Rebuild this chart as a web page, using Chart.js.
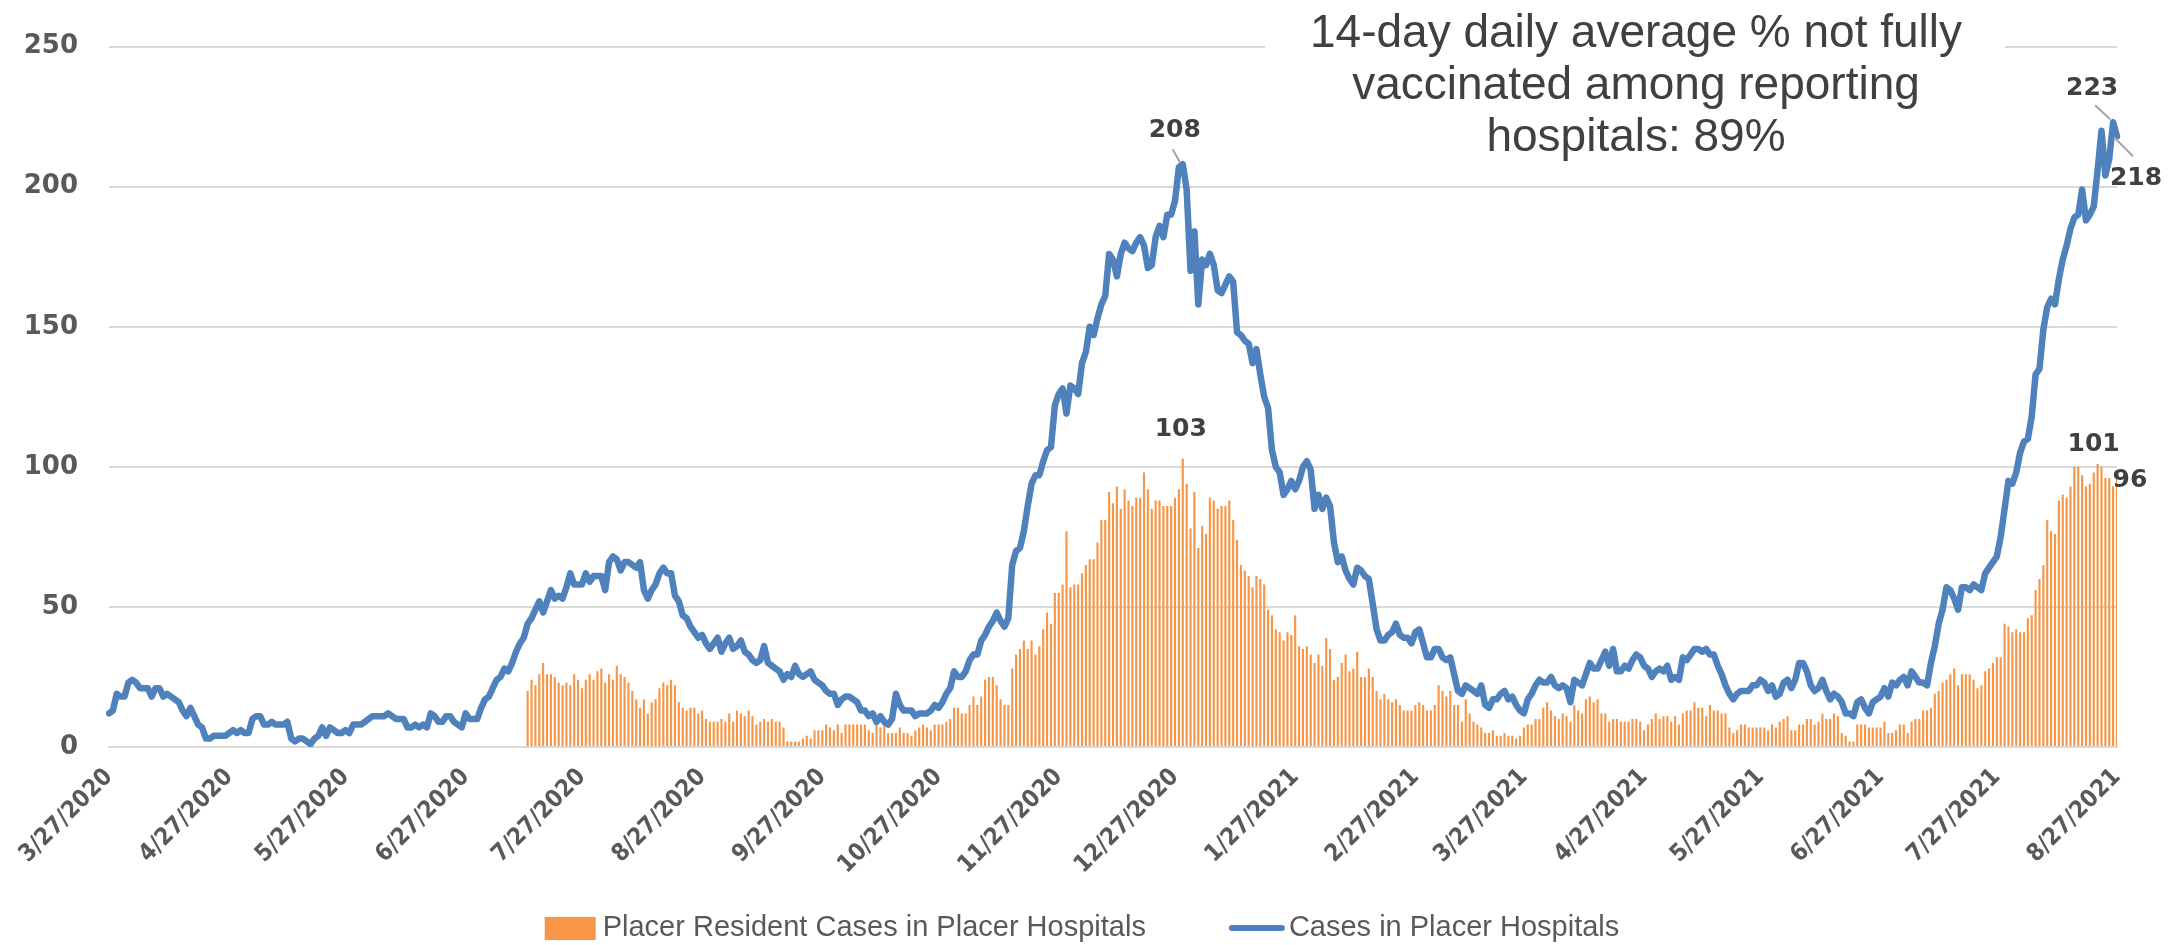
<!DOCTYPE html>
<html>
<head>
<meta charset="utf-8">
<title>Placer hospital cases</title>
<script src="https://cdn.jsdelivr.net/npm/chart.js@4.4.0/dist/chart.umd.min.js"></script>
<style>
    html, body { margin: 0; padding: 0; background: #ffffff; }
    canvas { display: block; }
</style>
</head>
<body>
<canvas id="hospitals" width="2178" height="945"></canvas>
<script>
// daily census, 3/27/2020 .. 8/27/2021
const hospital_cases = [
    12,13,19,18,18,23,24,23,21,21, 21,18,21,21,18,19,18,17,16,13,
    11,14,11,8,7,3,3,4,4,4, 4,5,6,5,6,5,5,10,11,11,
    8,8,9,8,8,8,9,3,2,3, 3,2,1,3,4,7,4,7,6,5,
    5,6,5,8,8,8,9,10,11,11, 11,11,12,11,10,10,10,7,7,8,
    7,8,7,12,11,9,9,11,11,9, 8,7,12,10,10,10,14,17,18,21,
    24,25,28,27,30,34,37,39,44,46, 49,52,48,52,56,53,54,53,57,62,
    58,58,58,62,59,61,61,61,56,66, 68,67,63,66,66,65,64,66,56,53,
    56,58,62,64,62,62,54,52,47,46, 43,41,39,40,37,35,37,39,34,37,
    39,35,36,38,34,33,31,30,31,36, 30,29,28,27,24,26,25,29,26,25,
    26,27,24,23,22,20,19,19,15,17, 18,18,17,16,13,13,11,12,9,11,
    9,8,10,19,15,13,13,13,11,12, 12,12,13,15,14,16,19,21,27,25,
    25,27,31,33,33,38,40,43,45,48, 45,43,46,65,70,71,77,86,94,97,
    97,102,106,107,122,126,128,119,129,128, 126,137,141,150,147,153,158,161,176,174,
    168,176,180,178,177,180,182,179,171,172, 182,186,182,190,190,195,207,208,199,170,
    184,158,174,172,176,172,163,162,165,168, 166,148,147,145,144,137,142,133,125,121,
    106,100,98,90,92,95,92,95,100,102, 99,85,90,85,89,86,73,66,68,63,
    60,58,64,63,61,60,51,42,38,38, 40,41,44,40,39,39,37,41,42,37,
    32,32,35,35,32,31,32,26,20,19, 22,21,20,19,22,15,14,17,17,19,
    20,17,18,15,13,12,17,19,22,24, 23,23,25,22,21,22,21,16,24,23,
    22,26,30,28,28,31,34,29,35,27, 27,29,28,31,33,32,29,28,25,27,
    28,27,29,24,25,24,32,31,33,35, 35,34,35,33,33,29,26,22,19,17,
    19,20,20,20,22,22,24,23,20,22, 18,19,23,24,21,24,30,30,27,22,
    20,21,24,20,17,19,18,16,12,12, 11,16,17,14,12,16,17,18,21,18,
    23,22,24,25,22,27,25,23,23,22, 30,36,44,49,57,56,53,49,57,57,
    56,58,57,56,62,64,66,68,75,85, 95,94,98,105,109,110,118,133,135,149,
    157,160,158,167,174,179,185,189,190,199, 188,190,193,206,220,204,210,223,218
];

// resident cases, reported from 7/13/2020 on
const resident_start = '7/13/2020';
const resident_cases = [
    20,24,22,26,30,26,26,25,23,22, 23,22,26,24,21,24,26,24,27,28,
    23,26,24,29,26,25,23,20,17,14, 17,12,16,17,21,23,22,24,22,16,
    14,13,14,
    14,12,13,10,9,9,9,10,9,12, 9,13,12,11,13,11,8,9,10,9,
    10,9,9,7,2,2,2,2,3,4, 3,6,6,6,8,7,6,8,5,8,
    8,8,8,8,8,6,5,8,7,8, 5,5,5,7,5,5,4,6,7,8,
    7,6,8,8,8,9,10,14,14,12, 12,15,18,15,18,
    24,25,25,22,17,15,15,28,33,35, 38,35,38,33,36,42,48,44,55,55,
    58,77,57,58,58,62,65,67,67,73, 81,81,91,87,93,85,92,88,86,89,
    89,98,92,85,88,88,86,86,86,89, 92,103,94,78,91,71,79,76,89,88,
    85,86,86,88,81,74,65,63,61,57, 61,60,58,49,47,
    42,41,38,41,40,47,36,35,36,33, 30,33,29,39,35,24,25,30,33,27,
    28,34,25,25,28,25,20,17,19,17, 16,17,15,13,13,13,15,16,15,13,
    13,15,22,20,18,20,15,15,9,17, 12,9,8,7,5,5,6,4,4,5,
    4,4,3,4,7,8,8,10,10,14, 16,13,
    11,10,12,11,9,15,13,12,17,18, 16,17,12,12,9,10,10,9,9,9,
    10,10,9,6,8,10,12,10,11,11, 9,11,8,12,13,13,16,14,14,11,
    15,13,13,12,12,7,5,6,8,8, 7,7,7,7,7,6,8,7,9,10,
    11,6,6,8,8,10,10,8,9,12, 10,10,12,11,5,
    4,2,2,8,8,8,7,7,7,7, 9,5,5,6,8,8,5,9,10,10,
    13,13,14,19,20,23,24,26,28,22, 26,26,26,24,21,22,27,28,30,32,
    32,44,43,41,42,41,41,46,47,56, 60,65,81,77,76,88,90,89,93,100,
    100,97,93,94,98,101,100,96,96,93, 96
];

const tick_labels = ['3/27/2020','4/27/2020','5/27/2020','6/27/2020','7/27/2020','8/27/2020',
    '9/27/2020','10/27/2020','11/27/2020','12/27/2020','1/27/2021','2/27/2021','3/27/2021',
    '4/27/2021','5/27/2021','6/27/2021','7/27/2021','8/27/2021'];

const note_lines = ['14-day daily average % not fully', 'vaccinated among reporting', 'hospitals: 89%'];

const series_names = ['Placer Resident Cases in Placer Hospitals', 'Cases in Placer Hospitals'];

// one category per day
const day_labels = [];
for (let i = 0; i < hospital_cases.length; i++) {
    const d = new Date(2020, 2, 27 + i);
    day_labels.push(`${d.getMonth() + 1}/${d.getDate()}/${d.getFullYear()}`);
}
const first_resident = day_labels.indexOf(resident_start);
const resident_data = day_labels.map((l, i) =>
    i < first_resident ? null : resident_cases[i - first_resident]);

const orange = '#F79646';
const blue = '#4F81BD';

// values written next to a few marks: [dataset, index, dx, dy]
const point_notes = [
    [1, 277, -8, -34],
    [0, 277, -2, -29],
    [1, 517, -21, -34],
    [1, 518, 19, 42],
    [0, 513, -4, -20],
    [0, 518, 13, 2]
];

const overlay = {
    id: 'overlay',
    beforeDatasetsDraw(chart) {
        const ctx = chart.ctx;
        ctx.save();
        ctx.fillStyle = '#ffffff';
        ctx.fillRect(1265, 0, 740, 165);
        ctx.fillStyle = '#404040';
        ctx.font = '46px "Liberation Sans", Arial, sans-serif';
        ctx.textAlign = 'center';
        ctx.textBaseline = 'middle';
        note_lines.forEach((t, k) => ctx.fillText(t, 1636, 34 + k * 52));
        ctx.restore();
    },
    afterDatasetsDraw(chart) {
        const ctx = chart.ctx;
        ctx.save();
        ctx.font = 'bold 25px "DejaVu Sans", sans-serif';
        ctx.fillStyle = '#404040';
        ctx.textAlign = 'center';
        ctx.textBaseline = 'middle';
        point_notes.forEach(([ds, i, dx, dy]) => {
            const el = chart.getDatasetMeta(ds).data[i];
            const value = chart.data.datasets[ds].data[i];
            ctx.fillText(String(value), el.x + dx, el.y + dy);
        });
        // leader lines
        ctx.strokeStyle = '#a6a6a6';
        ctx.lineWidth = 2;
        const p208 = chart.getDatasetMeta(1).data[277];
        const p223 = chart.getDatasetMeta(1).data[517];
        const p218 = chart.getDatasetMeta(1).data[518];
        ctx.beginPath();
        ctx.moveTo(p208.x - 10, p208.y - 15); ctx.lineTo(p208.x - 3, p208.y - 2);
        ctx.moveTo(p223.x - 18, p223.y - 17); ctx.lineTo(p223.x - 3, p223.y - 3);
        ctx.moveTo(p218.x - 3, p218.y + 1); ctx.lineTo(p218.x + 16, p218.y + 20);
        ctx.stroke();
        ctx.restore();
    },
    afterDraw(chart) {
        const ctx = chart.ctx;
        ctx.save();
        ctx.font = '29px "Liberation Sans", Arial, sans-serif';
        ctx.textBaseline = 'middle';
        ctx.fillStyle = '#595959';
        const w1 = ctx.measureText(series_names[0]).width;
        const w2 = ctx.measureText(series_names[1]).width;
        const total = 51 + 7 + w1 + 83 + 56 + 4 + w2;
        let x = 1082 - total / 2;
        const y = 928;
        ctx.fillStyle = orange;
        ctx.fillRect(x, y - 11, 51, 23);
        x += 58;
        ctx.fillStyle = '#595959';
        ctx.fillText(series_names[0], x, y);
        x += w1 + 83;
        ctx.strokeStyle = blue;
        ctx.lineWidth = 6;
        ctx.lineCap = 'round';
        ctx.beginPath();
        ctx.moveTo(x + 3, y); ctx.lineTo(x + 53, y);
        ctx.stroke();
        x += 60;
        ctx.fillText(series_names[1], x, y);
        ctx.restore();
    }
};

const ctx_hospitals = document.getElementById('hospitals').getContext('2d');
const hospitals_chart = new Chart(ctx_hospitals, {
    type: 'bar',
    data: {
        labels: day_labels,
        datasets: [
            {
                type: 'bar',
                label: series_names[0],
                data: resident_data,
                backgroundColor: orange,
                barPercentage: 0.55,
                categoryPercentage: 1.0,
                order: 2
            },
            {
                type: 'line',
                label: series_names[1],
                data: hospital_cases,
                borderColor: blue,
                backgroundColor: blue,
                borderWidth: 6.5,
                pointRadius: 0,
                tension: 0,
                borderJoinStyle: 'round',
                borderCapStyle: 'round',
                order: 1
            }
        ]
    },
    options: {
        responsive: false,
        animation: false,
        devicePixelRatio: 1,
        layout: { padding: { top: 44, left: 0, right: 61, bottom: 48 } },
        plugins: {
            legend: { display: false },
            tooltip: { enabled: false }
        },
        scales: {
            x: {
                offset: false,
                grid: { display: false },
                border: { display: true, color: '#D9D9D9', width: 2 },
                ticks: {
                    autoSkip: false,
                    minRotation: 45,
                    maxRotation: 45,
                    padding: 8,
                    color: '#595959',
                    font: { family: '"DejaVu Sans Condensed", "DejaVu Sans", sans-serif', weight: 'bold', size: 24 },
                    callback: function (value) {
                        const l = this.getLabelForValue(value);
                        return tick_labels.includes(l) ? l : null;
                    }
                },
                afterFit: (scale) => { scale.height = 150; }
            },
            y: {
                min: 0,
                max: 250,
                grid: { color: '#D9D9D9', lineWidth: 2, drawTicks: false },
                border: { display: false },
                ticks: {
                    stepSize: 50,
                    padding: 31,
                    color: '#595959',
                    font: { family: '"DejaVu Sans", sans-serif', weight: 'bold', size: 26 }
                },
                afterFit: (scale) => { scale.width = 109; }
            }
        }
    },
    plugins: [overlay]
});
</script>
</body>
</html>
